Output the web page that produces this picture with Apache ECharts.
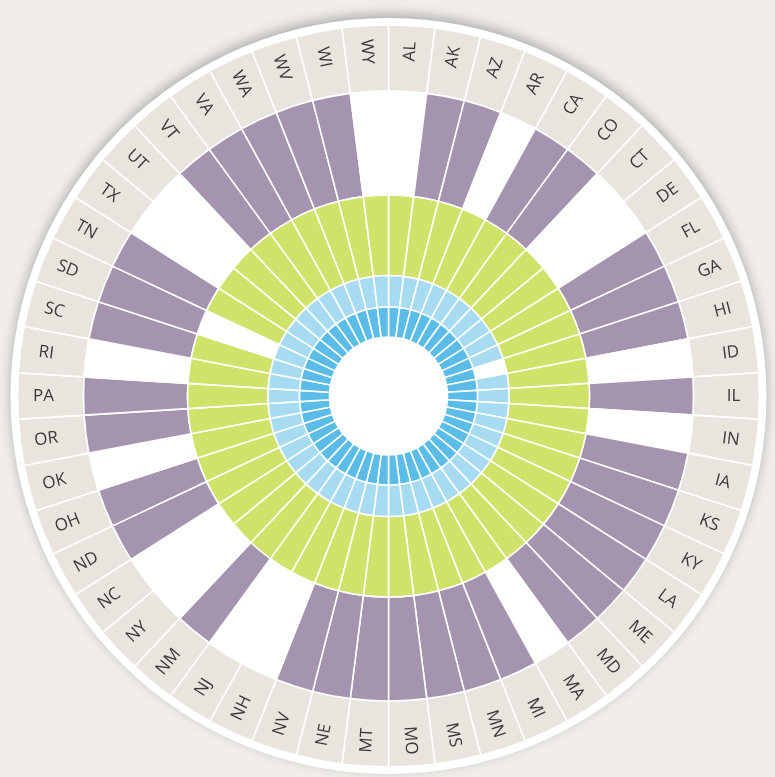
<!DOCTYPE html>
<html>
<head>
<meta charset="utf-8">
<script src="https://cdn.jsdelivr.net/npm/echarts@6/dist/echarts.min.js"></script>
<style>
html,body{margin:0;padding:0;background:#f1eeea;}
#chart{width:775px;height:777px;}
</style>
</head>
<body>
<div id="chart"></div>
<script>
// States, clockwise from the top
const states = ['AL','AK','AZ','AR','CA','CO','CT','DE','FL','GA',
                'HI','ID','IL','IN','IA','KS','KY','LA','ME','MD',
                'MA','MI','MN','MS','MO','MT','NE','NV','NH','NJ',
                'NM','NY','NC','ND','OH','OK','OR','PA','RI','SC',
                'SD','TN','TX','UT','VT','VA','WA','WV','WI','WY'];

// Presence (1) / absence (0) of each ring segment per state
const darkBlueRing  = [1,1,1,1,1,1,1,1,1,1, 1,1,1,1,1,1,1,1,1,1, 1,1,1,1,1,1,1,1,1,1, 1,1,1,1,1,1,1,1,1,1, 1,1,1,1,1,1,1,1,1,1];
const lightBlueRing = [1,1,1,1,1,1,1,1,1,1, 0,1,1,1,1,1,1,1,1,1, 1,1,1,1,1,1,1,1,1,1, 1,1,1,1,1,1,1,1,1,1, 1,1,1,1,1,1,1,1,1,1];
const greenRing     = [1,1,1,1,1,1,1,1,1,1, 1,1,1,1,1,1,1,1,1,1, 1,1,1,1,1,1,1,1,1,1, 1,1,1,1,1,1,1,1,1,1, 0,1,1,1,1,1,1,1,1,1];
const purpleRing    = [0,1,1,0,1,1,0,0,1,1, 1,0,1,0,1,1,1,1,1,1, 0,1,1,1,1,1,1,1,0,0, 1,0,0,1,1,0,1,1,0,1, 1,1,0,0,1,1,1,1,1,0];

const CX = 388.5, CY = 396;

function ring(flags, color, r0, r1) {
  return {
    type: 'pie',
    center: [CX, CY],
    radius: [r0, r1],
    startAngle: 90,
    clockwise: true,
    silent: true,
    avoidLabelOverlap: false,
    label: { show: false },
    labelLine: { show: false },
    emphasis: { disabled: true },
    itemStyle: { borderColor: '#ffffff', borderWidth: 1.6 },
    data: states.map((s, i) => ({
      name: s,
      value: 1,
      itemStyle: { color: flags[i] ? color : 'rgba(0,0,0,0)' }
    }))
  };
}

const labelRing = {
  type: 'pie',
  center: [CX, CY],
  radius: [313, 371],
  startAngle: 90,
  clockwise: true,
  silent: true,
  avoidLabelOverlap: false,
  z: 5,
  emphasis: { disabled: true },
  itemStyle: { color: 'rgba(0,0,0,0)', borderWidth: 0 },
  labelLine: { show: false },
  label: {
    show: true,
    position: 'inside',
    rotate: 'radial',
    formatter: '{b}',
    fontFamily: 'Open Sans',
    fontSize: 17,
    color: '#3a3a3a'
  },
  data: states.map(s => ({ name: s, value: 1 }))
};

const chart = echarts.init(document.getElementById('chart'), null, { renderer: 'canvas' });
chart.setOption({
  backgroundColor: '#f1eeea',
  animation: false,
  graphic: [{
    type: 'circle',
    z: 0,
    silent: true,
    shape: { cx: CX, cy: CY, r: 378 },
    style: {
      fill: '#ffffff',
      shadowBlur: 12,
      shadowColor: 'rgba(0,0,0,0.28)',
      shadowOffsetY: -4
    }
  }],
  series: [
    ring(states.map(() => 1), '#e9e4de', 305, 371),
    ring(purpleRing, '#a594b0', 201, 305),
    ring(greenRing, '#d1e26a', 120.5, 201),
    ring(lightBlueRing, '#a7dbf2', 89, 120.5),
    ring(darkBlueRing, '#5bbde7', 59, 89),
    labelRing
  ]
});
</script>
</body>
</html>
